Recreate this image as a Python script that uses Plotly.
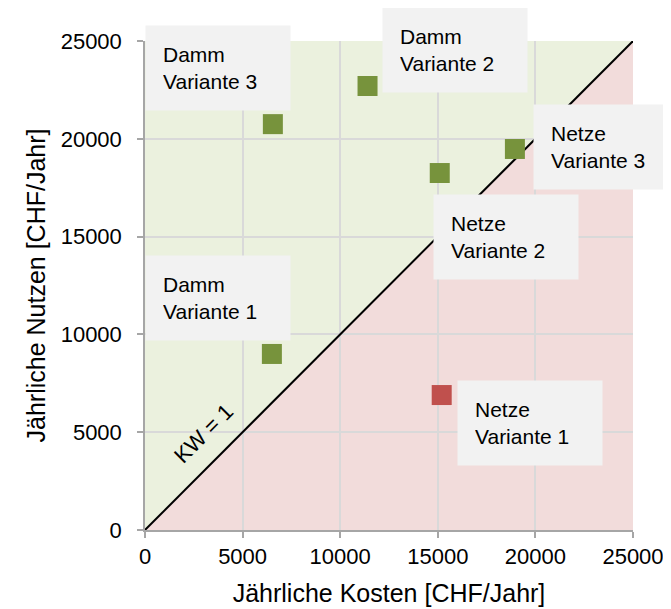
import plotly.graph_objects as go

# ---- data ----
labels = ["Damm<br>Variante 1", "Damm<br>Variante 2", "Damm<br>Variante 3",
          "Netze<br>Variante 1", "Netze<br>Variante 2", "Netze<br>Variante 3"]
kosten = [6500, 11400, 6550, 15200, 15100, 18950]
nutzen = [9000, 22700, 20750, 6900, 18250, 19480]
kw_ok = [True, True, True, False, True, True]
tick_vals = [0, 5000, 10000, 15000, 20000, 25000]
tick_text = ["0", "5000", "10000", "15000", "20000", "25000"]
AXIS_MAX = 25000

# ---- layout constants (label box top-left corners, as fraction of plot area) ----
box_x = [0.0, 0.486, 0.0, 0.639, 0.590, 0.795]
box_y = [0.562, 1.070, 1.033, 0.307, 0.687, 0.871]

GREEN = "#77933c"
RED = "#c0504d"
FONT = "Liberation Sans, Arial, sans-serif"

fig = go.Figure()

# diagonal KW = 1
fig.add_trace(go.Scatter(x=[0, AXIS_MAX], y=[0, AXIS_MAX], mode="lines",
                         line=dict(color="black", width=2), hoverinfo="skip",
                         showlegend=False))

fig.add_trace(go.Scatter(
    x=kosten, y=nutzen, mode="markers", showlegend=False,
    marker=dict(symbol="square", size=20,
                color=[GREEN if k else RED for k in kw_ok],
                line=dict(width=0)),
    text=[l.replace("<br>", " ") for l in labels], hoverinfo="text"))

shapes = [
    dict(type="path", xref="x", yref="y", layer="below",
         path=f"M 0 0 L 0 {AXIS_MAX} L {AXIS_MAX} {AXIS_MAX} Z",
         fillcolor="#ebf1de", line=dict(width=0)),
    dict(type="path", xref="x", yref="y", layer="below",
         path=f"M 0 0 L {AXIS_MAX} 0 L {AXIS_MAX} {AXIS_MAX} Z",
         fillcolor="#f2dcdb", line=dict(width=0)),
]

annotations = []
for lab, bx, by in zip(labels, box_x, box_y):
    annotations.append(dict(
        x=bx, y=by, xref="paper", yref="paper", xanchor="left", yanchor="top",
        text=lab, showarrow=False, align="left", width=110,
        bgcolor="#f2f2f2", borderpad=17,
        font=dict(family=FONT, size=21, color="black")))

annotations.append(dict(
    x=3000, y=4950, xref="x", yref="y", text="KW = 1", showarrow=False,
    textangle=-45, font=dict(family=FONT, size=22, color="black")))

axis_common = dict(
    range=[0, AXIS_MAX], tickvals=tick_vals, ticktext=tick_text, showgrid=True,
    gridcolor="#d9d9d9", gridwidth=1.5, zeroline=False, showline=True,
    linecolor="#a6a6a6", linewidth=1.5, ticks="outside", ticklen=6,
    tickcolor="#a6a6a6", tickwidth=1.5, automargin=False,
    tickfont=dict(family=FONT, size=22, color="black"))

fig.update_layout(
    width=663, height=601,
    margin=dict(l=137, r=38, t=33, b=79),
    plot_bgcolor="white", paper_bgcolor="white",
    shapes=shapes, annotations=annotations,
    xaxis=dict(**axis_common,
               title=dict(text="Jährliche Kosten [CHF/Jahr]", standoff=16,
                          font=dict(family=FONT, size=25, color="black"))),
    yaxis=dict(**axis_common, ticklabelstandoff=11,
               title=dict(text="Jährliche Nutzen [CHF/Jahr]", standoff=8,
                          font=dict(family=FONT, size=25, color="black"))),
)

fig.write_html("out.html")
